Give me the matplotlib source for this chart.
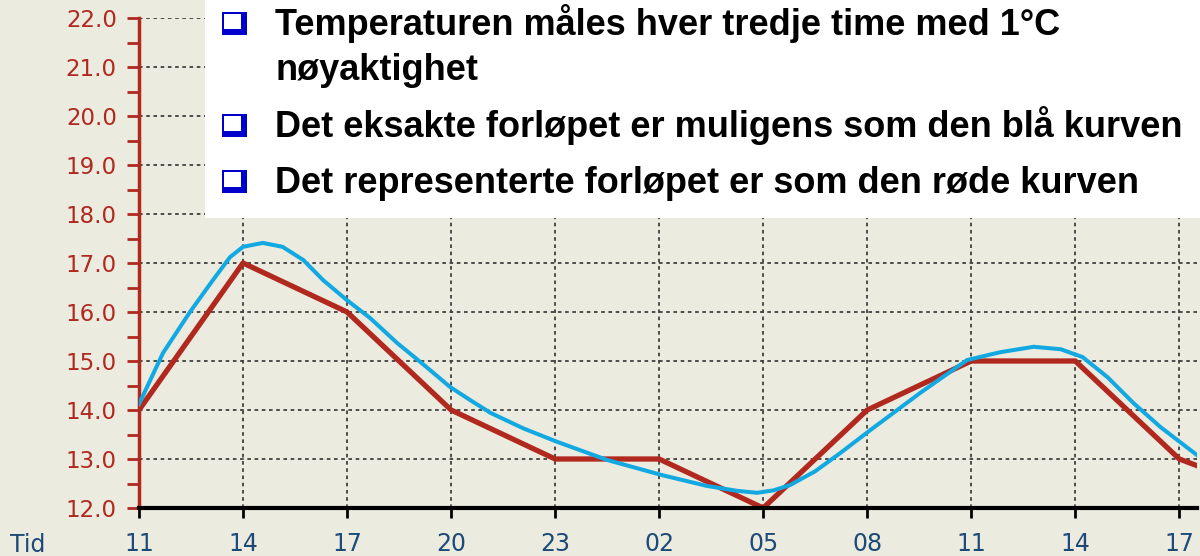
import numpy as np
import matplotlib.pyplot as plt
from matplotlib.patches import Rectangle

# tidspunkt (hver tredje time), siste verdi ligger utenfor bildet
tid_labels = ["11", "14", "17", "20", "23", "02", "05", "08", "11", "14", "17"]
red_idx = [0, 1, 2, 3, 4, 5, 6, 7, 8, 9, 10, 11]
red_temp = [14, 17, 16, 14, 13, 13, 12, 14, 15, 15, 13, 12.2]

# blaa kurve, avlest punkt for punkt
blue_idx = [0.0, 0.23, 0.49, 0.71, 0.875, 1.0, 1.19, 1.38, 1.58, 1.77, 2.0, 2.22,
            2.48, 2.75, 2.99, 3.2, 3.38, 3.7, 4.02, 4.5, 5.03, 5.46, 5.75, 5.94,
            6.1, 6.26, 6.5, 6.74, 7.03, 7.51, 7.96, 8.28, 8.6, 8.86, 9.07, 9.31,
            9.56, 9.82, 10.17]
blue_temp = [14.12, 15.16, 16.0, 16.65, 17.12, 17.33, 17.41, 17.33, 17.06, 16.65,
             16.24, 15.88, 15.37, 14.9, 14.47, 14.18, 13.94, 13.62, 13.35, 12.98,
             12.67, 12.45, 12.35, 12.31, 12.36, 12.47, 12.75, 13.12, 13.59, 14.35,
             15.02, 15.18, 15.29, 15.24, 15.08, 14.67, 14.14, 13.65, 13.08]

bullets = [["Temperaturen måles hver tredje time med 1°C", "nøyaktighet"],
           ["Det eksakte forløpet er muligens som den blå kurven"],
           ["Det representerte forløpet er som den røde kurven"]]

bg = "#ecebdf"
red = "#b0281e"
blue = "#12a9e2"
W, H = 1200, 556

fig = plt.figure(figsize=(12, 5.56), dpi=100)
fig.patch.set_facecolor(bg)
ax = fig.add_axes([139 / W, 48 / H, 1058 / W, 490 / H])
ax.set_facecolor(bg)

ax.set_xlim(0, 10.17)
ax.set_ylim(12, 22)

ax.grid(True, color="#404040", linestyle=(0, (2, 2)), linewidth=1.3)
ax.set_axisbelow(True)

ax.plot(red_idx, red_temp, color=red, linewidth=3.8, zorder=3)
ax.plot(blue_idx, blue_temp, color=blue, linewidth=2.9, zorder=4,
        solid_joinstyle="round")

for s in ["top", "right"]:
    ax.spines[s].set_visible(False)
ax.spines["left"].set_color(red)
ax.spines["left"].set_linewidth(2.5)
ax.spines["bottom"].set_color("black")
ax.spines["bottom"].set_linewidth(3)
ax.spines["bottom"].set_zorder(5)

ax.set_yticks(np.arange(12, 22.1, 1.0))
ax.set_yticks(np.arange(12.5, 22, 1.0), minor=True)
ax.set_yticklabels([f"{v:.1f}" for v in np.arange(12, 22.1, 1.0)])
ax.tick_params(axis="y", which="both", direction="out", length=9, width=2,
               color=red, labelcolor=red, labelsize=16.5, pad=7)

ax.set_xticks(range(len(tid_labels)))
ax.set_xticklabels(tid_labels)
ax.tick_params(axis="x", direction="out", length=7, width=2, color="black",
               labelcolor="#1d4a78", labelsize=17, pad=10)

fig.text(10 / W, 1 - 545 / H, "Tid", color="#1d4a78", fontsize=17,
         va="center", ha="left")


def px_rect(x0, y0, x1, y1, **kw):
    # rektangel i pikselkoordinater (y nedover)
    fig.patches.append(Rectangle((x0 / W, 1 - y1 / H), (x1 - x0) / W, (y1 - y0) / H,
                                 transform=fig.transFigure, **kw))


# hvit tekstboks oppe til hoyre
px_rect(205, 0, W, 218, facecolor="white", edgecolor="none", zorder=10)

tops = [12, 114, 170]
baselines = [[35, 80], [137], [193]]
for top, bl, lines in zip(tops, baselines, bullets):
    px_rect(222, top, 247, top + 23, facecolor="#0000cc", edgecolor="none", zorder=11)
    px_rect(224, top + 2, 241, top + 17, facecolor="white", edgecolor="none", zorder=12)
    for b, line in zip(bl, lines):
        fig.text(275 / W, 1 - b / H, line, color="black", fontsize=26,
                 family="Liberation Sans", weight="bold", va="baseline",
                 ha="left", zorder=13)

fig.savefig("out.png", dpi=100, facecolor=bg)
